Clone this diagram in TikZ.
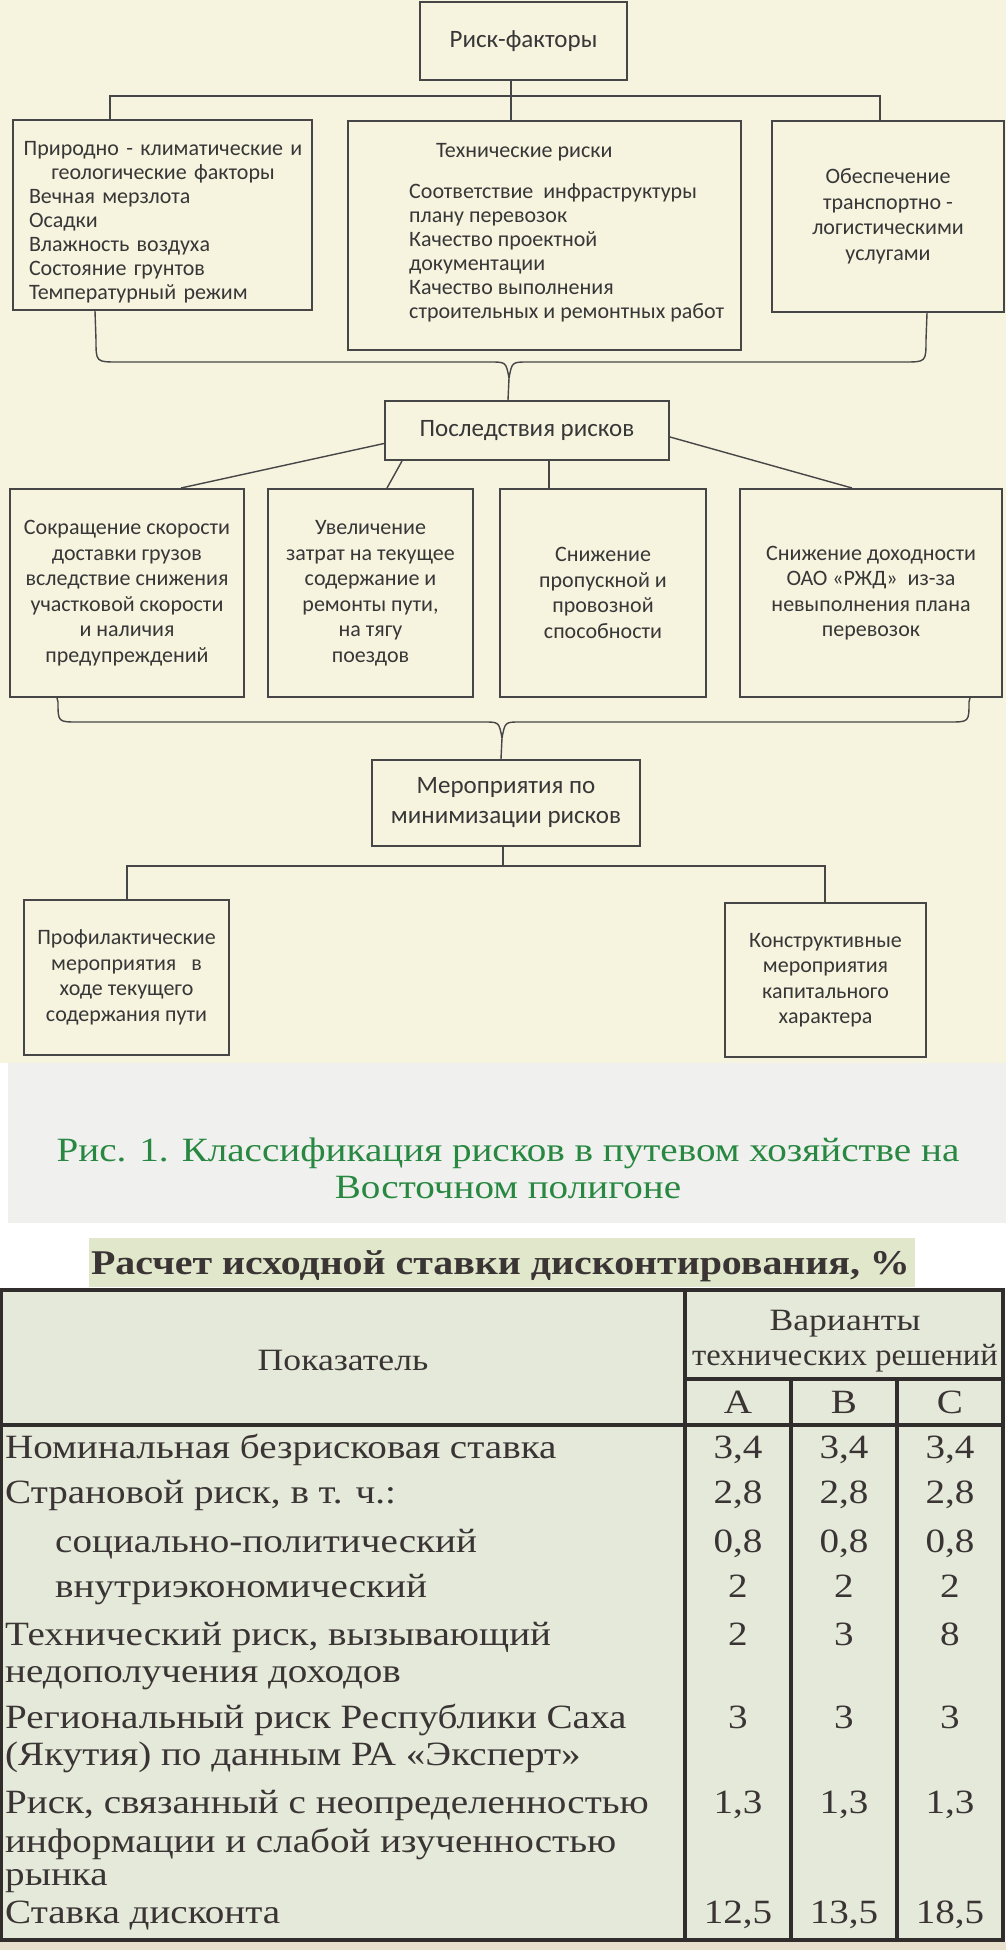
\documentclass[tikz,border=0pt]{standalone}
\usepackage{fontspec}
\setmainfont{Liberation Serif}
\newfontfamily\diagfont{Carlito}
\newfontfamily\tabfont[FakeStretch=1.15]{Liberation Serif}
\newfontfamily\tabnarrow[FakeStretch=1.05]{Liberation Serif}
\definecolor{paper}{RGB}{246,243,223}
\definecolor{capbg}{RGB}{240,241,238}
\definecolor{titlebg}{RGB}{225,231,203}
\definecolor{tablebg}{RGB}{228,233,217}
\definecolor{strip}{RGB}{232,224,204}
\definecolor{boxline}{RGB}{70,70,70}
\definecolor{ink}{RGB}{55,55,55}
\definecolor{tink}{RGB}{58,52,52}
\definecolor{capgreen}{RGB}{40,135,65}
\definecolor{rule}{RGB}{50,45,45}
\tikzset{
  riskbox/.style={rectangle, draw=boxline, line width=2pt, inner sep=0pt,
                  align=center, text=ink, font=\diagfont\fontsize{22}{25.5}\selectfont},
  headbox/.style={riskbox, font=\diagfont\fontsize{25}{30}\selectfont},
  boxtext/.style={inner sep=0pt, text=ink, font=\diagfont\fontsize{22}{24}\selectfont},
  link/.style={draw=boxline, line width=1.4pt},
  tcell/.style={inner sep=0pt, anchor=base west, text=tink,
                font=\tabfont\fontsize{34}{40}\selectfont},
  tval/.style={tcell, anchor=base},
  thead/.style={tval, font=\tabfont\fontsize{31}{36}\selectfont},
  tline/.style={draw=rule, line width=3.5pt},
}
\begin{document}
\begin{tikzpicture}[x=1pt, y=-1pt]
  \useasboundingbox (0,0) rectangle (1006,1950);
  % page background
  \fill[white] (0,0) rectangle (1006,1950);
  \fill[paper] (0,0) rectangle (1006,1063);
  \fill[capbg] (8,1063) rectangle (1006,1223);
  \fill[strip] (0,1942) rectangle (1006,1950);

  % risk factors
  \node[headbox, minimum width=207pt, minimum height=78pt] (factors) at (523.5,41) {Риск-факторы};
  \node[riskbox, minimum width=299pt, minimum height=190pt] (nat) at (162.5,215) {};
  \node[boxtext, text width=284pt, align=left] (nattext) at (163,222)
       {{\centering Природно - климатические и\\геологические факторы\par}
        {\leftskip=8pt Вечная мерзлота\\Осадки\\Влажность воздуха\\Состояние грунтов\\Температурный режим\par}};
  \node[riskbox, minimum width=393pt, minimum height=229pt] (tech) at (544.5,235.5) {};
  \node[boxtext, align=left, anchor=west] (techtext) at (409,233)
       {\hspace*{27pt}Технические риски\\[17pt]Соответствие~ инфраструктуры\\плану перевозок\\
        Качество проектной\\документации\\Качество выполнения\\строительных и ремонтных работ};
  \node[riskbox, minimum width=232pt, minimum height=191pt] (logi) at (888,216.5)
       {Обеспечение\\транспортно -\\логистическими\\услугами};

  \coordinate (bus1) at (511,96);
  \draw[link] (bus1 |- factors.south) -- (bus1 |- tech.north);
  \draw[link] ([xshift=98pt]nat.north west) |- (bus1) -| ([xshift=-125pt]logi.north east);

  % consequences
  \node[headbox, minimum width=284pt, minimum height=59pt] (cons) at (527,430.5) {Последствия рисков};
  \coordinate (tip1) at (509,378);
  \draw[link] ([xshift=83pt]nat.south west) -- (96,340) .. controls (96,362) .. (118,362)
              -- (490,362) .. controls (506,362) .. (tip1) -- ([xshift=124pt]cons.north west);
  \draw[link] ([xshift=-78pt]logi.south east) -- (926,340) .. controls (926,362) .. (904,362)
              -- (528,362) .. controls (512,362) .. (tip1);

  \node[riskbox, minimum width=234pt, minimum height=208pt] (c1) at (127,593)
       {Сокращение скорости\\доставки грузов\\вследствие снижения\\участковой скорости\\и наличия\\предупреждений};
  \node[riskbox, minimum width=205pt, minimum height=208pt] (c2) at (370.5,593)
       {Увеличение\\затрат на текущее\\содержание и\\ремонты пути,\\на тягу\\поездов};
  \node[riskbox, minimum width=206pt, minimum height=208pt] (c3) at (603,593)
       {Снижение\\пропускной и\\провозной\\способности};
  \node[riskbox, minimum width=262pt, minimum height=208pt] (c4) at (871,593)
       {Снижение доходности\\ОАО «РЖД»~ из-за\\невыполнения плана\\перевозок};
  \draw[link] ([yshift=-13pt]cons.west) -- ([xshift=172pt]c1.north west);
  \draw[link] ([xshift=18pt]cons.south west) -- ([xshift=120pt]c2.north west);
  \draw[link] ([xshift=165pt]cons.south west) -- ([xshift=50pt]c3.north west);
  \draw[link] ([yshift=-6.5pt]cons.east) -- ([xshift=113pt]c4.north west);

  % mitigation
  \node[headbox, minimum width=268pt, minimum height=86pt] (mit) at (506,803)
       {Мероприятия по\\минимизации рисков};
  \coordinate (tip2) at (502,738);
  \draw[link] ([xshift=48pt]c1.south west) -- (58,702) .. controls (58,722) .. (78,722)
              -- (484,722) .. controls (499,722) .. (tip2) -- ([xshift=130pt]mit.north west);
  \draw[link] ([xshift=-33pt]c4.south east) -- (969,702) .. controls (969,722) .. (949,722)
              -- (520,722) .. controls (505,722) .. (tip2);

  \node[riskbox, minimum width=205pt, minimum height=155pt] (prev) at (126.5,977.5)
       {Профилактические\\мероприятия~~ в\\ходе текущего\\содержания пути};
  \node[riskbox, minimum width=201pt, minimum height=154pt] (constr) at (825.5,980)
       {Конструктивные\\мероприятия\\капитального\\характера};
  \coordinate (bus2) at (503,866);
  \draw[link] (bus2 |- mit.south) -- (bus2);
  \draw[link] ([xshift=104pt]prev.north west) |- (bus2) -| ([xshift=-102pt]constr.north east);

  % caption
  \node[inner sep=0pt, text=capgreen, align=center, font=\tabfont\fontsize{34}{37}\selectfont]
       (caption) at (508,1168) {Рис. 1. Классификация рисков в путевом хозяйстве на\\Восточном полигоне};

  % table
  \fill[titlebg] (89,1238) rectangle (915,1287);
  \node[tcell, anchor=base, font=\tabfont\bfseries\fontsize{34.7}{38}\selectfont] (ttitle) at (500.5,1274)
       {Расчет исходной ставки дисконтирования, \%};
  \fill[tablebg] (1,1290) rectangle (1003,1940);
  \draw[tline] (1,1290) rectangle (1003,1940);
  \draw[tline] (685,1290) -- (685,1940);
  \draw[tline] (685,1379) -- (1003,1379);
  \draw[tline] (791,1379) -- (791,1940);
  \draw[tline] (897,1379) -- (897,1940);
  \draw[tline] (1,1425) -- (1003,1425);

  \node[thead] (hdr) at (343,1370) {Показатель};
  \node[thead] (var1) at (845,1330) {Варианты};
  \node[thead, font=\tabnarrow\fontsize{31}{36}\selectfont] (var2) at (845,1365) {технических решений};
  \node[tval] (colA) at (738,1413) {A};
  \node[tval] (colB) at (844,1413) {B};
  \node[tval] (colC) at (950,1413) {C};

  \node[tcell] (r1) at (5,1458) {Номинальная безрисковая ставка};
  \node[tcell] (r2) at (5,1503) {Страновой риск, в т. ч.:};
  \node[tcell] (r3) at (55,1552) {социально-политический};
  \node[tcell] (r4) at (55,1597) {внутриэкономический};
  \node[tcell] (r5) at (5,1645) {Технический риск, вызывающий};
  \node[tcell] (r5b) at (5,1682) {недополучения доходов};
  \node[tcell] (r6) at (5,1728) {Региональный риск Республики Саха};
  \node[tcell] (r6b) at (5,1765) {(Якутия) по данным РА «Эксперт»};
  \node[tcell] (r7) at (5,1813) {Риск, связанный с неопределенностью};
  \node[tcell] (r7b) at (5,1852) {информации и слабой изученностью};
  \node[tcell] (r7c) at (5,1885) {рынка};
  \node[tcell] (r8) at (5,1923) {Ставка дисконта};

  \foreach \y/\va/\vb/\vc [count=\r] in {1458/{3,4}/{3,4}/{3,4}, 1503/{2,8}/{2,8}/{2,8},
      1552/{0,8}/{0,8}/{0,8}, 1597/2/2/2, 1645/2/3/8, 1728/3/3/3,
      1813/{1,3}/{1,3}/{1,3}, 1923/{12,5}/{13,5}/{18,5}} {
    \node[tval] (va\r) at (738,\y) {\va};
    \node[tval] (vb\r) at (844,\y) {\vb};
    \node[tval] (vc\r) at (950,\y) {\vc};
  }
\end{tikzpicture}
\end{document}
